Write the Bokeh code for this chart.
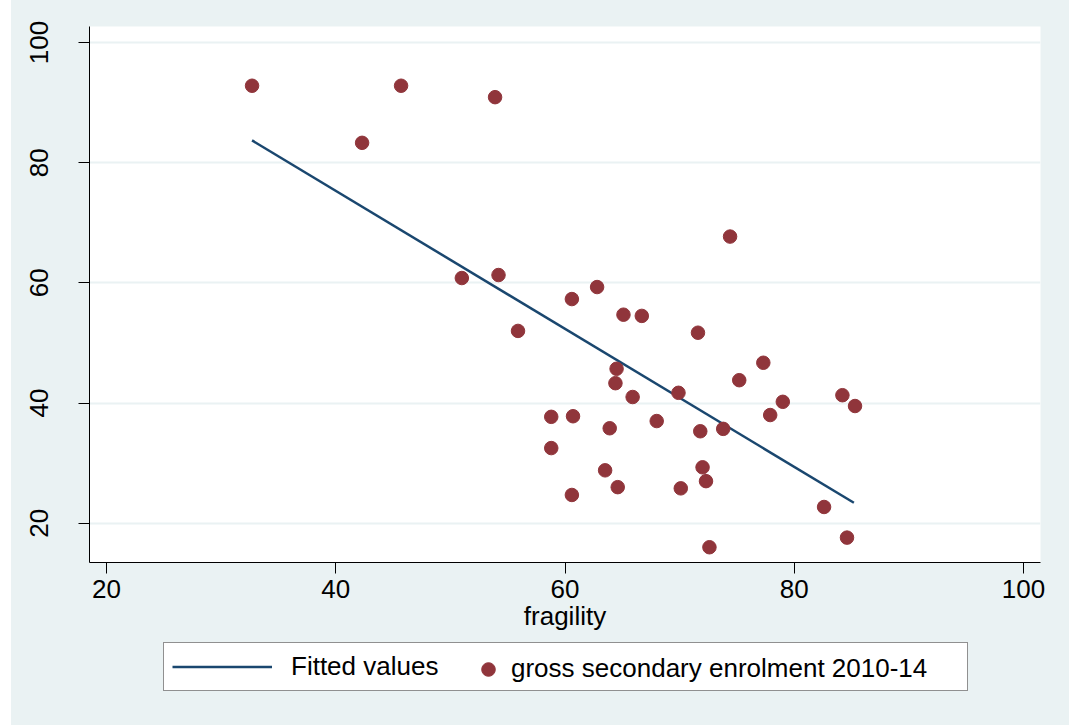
from bokeh.plotting import figure
from bokeh.models import Range1d, FixedTicker, Legend, LegendItem, Spacer, Row, Column
from bokeh.embed import file_html
from bokeh.resources import INLINE

# Data
fragility = [32.7, 42.3, 45.7, 53.9, 51.0, 54.2, 55.9, 74.4, 60.6, 62.8,
             65.1, 66.7, 71.6, 64.5, 64.4, 65.9, 69.9, 77.3, 75.2, 79.0,
             77.9, 84.2, 85.3, 58.8, 60.7, 63.9, 68.0, 71.8, 73.8, 58.8,
             63.5, 72.0, 72.3, 60.6, 64.6, 70.1, 82.6, 72.6, 84.6]
enrolment = [92.8, 83.3, 92.8, 90.9, 60.8, 61.3, 52.0, 67.7, 57.3, 59.3,
             54.7, 54.5, 51.7, 45.7, 43.3, 41.0, 41.7, 46.7, 43.8, 40.2,
             38.0, 41.3, 39.5, 37.7, 37.8, 35.8, 37.0, 35.3, 35.7, 32.5,
             28.8, 29.3, 27.0, 24.7, 26.0, 25.8, 22.7, 16.0, 17.6]
fit_x = [32.7, 85.2]
fit_y = [83.7, 23.4]
x_ticks = [20, 40, 60, 80, 100]
y_ticks = [20, 40, 60, 80, 100]
legend_labels = ["Fitted values", "gross secondary enrolment 2010-14"]

BG = "#EAF2F3"
FONT = "Liberation Sans"
LINE_C = "#1A476F"
PT_C = "#90353B"

p = figure(frame_width=951, frame_height=536,
           min_border_left=78, min_border_right=29, min_border_top=26, min_border_bottom=80,
           x_range=Range1d(18.52, 101.48), y_range=Range1d(13.46, 102.66),
           output_backend="svg", toolbar_location=None,
           background_fill_color="white", border_fill_color=BG)
p.outline_line_color = None

p.line(fit_x, fit_y, line_color=LINE_C, line_width=2.5)
p.scatter(fragility, enrolment, size=13.5, fill_color=PT_C, line_color=PT_C)

p.xgrid.grid_line_color = None
p.ygrid.grid_line_color = BG
p.ygrid.grid_line_width = 2
p.ygrid.ticker = FixedTicker(ticks=y_ticks)

for ax in (p.xaxis[0], p.yaxis[0]):
    ax.axis_line_color = "black"
    ax.axis_line_width = 1
    ax.major_tick_line_color = "black"
    ax.major_tick_out = 11
    ax.major_tick_in = 0
    ax.minor_tick_line_color = None
    ax.major_label_text_font = FONT
    ax.major_label_text_font_size = "26px"
    ax.major_label_text_color = "black"

p.xaxis[0].ticker = FixedTicker(ticks=x_ticks)
p.yaxis[0].ticker = FixedTicker(ticks=y_ticks)
p.xaxis[0].major_label_standoff = 6
p.yaxis[0].major_label_standoff = 30
p.yaxis[0].major_label_orientation = "vertical"
p.xaxis[0].axis_label = "fragility"
p.xaxis[0].axis_label_text_font = FONT
p.xaxis[0].axis_label_text_font_size = "26px"
p.xaxis[0].axis_label_text_font_style = "normal"
p.xaxis[0].axis_label_text_color = "black"
p.xaxis[0].axis_label_standoff = 0

# Legend panel as a separate figure below
leg_h = 725 - (26 + 536 + 80)
pl = figure(frame_width=1058, frame_height=leg_h,
            min_border_left=0, min_border_right=0, min_border_top=0, min_border_bottom=0,
            x_range=Range1d(0, 1), y_range=Range1d(0, 1),
            x_axis_location=None, y_axis_location=None,
            output_backend="svg", toolbar_location=None,
            background_fill_color=BG, border_fill_color=BG)
pl.outline_line_color = None
pl.grid.visible = False
# legend-only renderers, kept outside the visible range
lr = pl.line([-5, -4], [-5, -5], line_color=LINE_C, line_width=2.5)
sr = pl.scatter([-5], [-5], size=13.5, fill_color=PT_C, line_color=PT_C)

common = dict(orientation="horizontal", padding=8, margin=0,
              label_text_font=FONT, label_text_font_size="26px", label_text_color="black",
              label_height=29, spacing=0)
vy = leg_h - (691 - 642)
leg_a = Legend(items=[LegendItem(label=legend_labels[0], renderers=[lr])],
               location=(152, vy), glyph_width=100, glyph_height=29,
               label_standoff=19, label_width=668,
               border_line_color="#222222", border_line_width=1,
               background_fill_color="white", background_fill_alpha=1.0, **common)
leg_b = Legend(items=[LegendItem(label=legend_labels[1], renderers=[sr])],
               location=(452, vy - 2.5), glyph_width=34, glyph_height=34, label_standoff=6,
               border_line_color="white", border_line_alpha=0.0, border_line_width=1,
               background_fill_alpha=0.0, **common)
pl.add_layout(leg_a, "center")
pl.add_layout(leg_b, "center")

col = Column(p, pl, styles={"background-color": BG})
layout = Row(Spacer(width=11, height=725), col)
open("out.html", "w").write(file_html(layout, INLINE))
